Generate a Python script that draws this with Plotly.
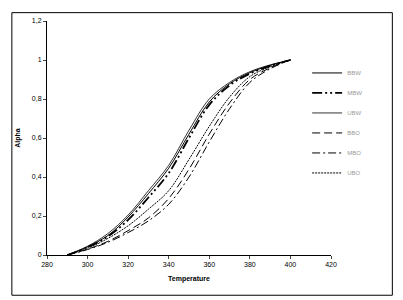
import plotly.graph_objects as go

temps = [290, 300, 310, 320, 330, 340, 350, 360, 370, 380, 390, 400]
BBW = [0, 0.042, 0.100, 0.195, 0.315, 0.445, 0.620, 0.785, 0.878, 0.935, 0.972, 1.0]
MBW = [0, 0.040, 0.095, 0.180, 0.295, 0.420, 0.600, 0.770, 0.870, 0.930, 0.970, 1.0]
UBW = [0, 0.045, 0.110, 0.205, 0.330, 0.460, 0.640, 0.800, 0.885, 0.940, 0.975, 1.0]
BBO = [0, 0.030, 0.070, 0.125, 0.190, 0.290, 0.440, 0.620, 0.780, 0.900, 0.960, 1.0]
MBO = [0, 0.028, 0.065, 0.115, 0.175, 0.260, 0.400, 0.580, 0.750, 0.885, 0.955, 1.0]
UBO = [0, 0.035, 0.085, 0.150, 0.235, 0.330, 0.490, 0.660, 0.810, 0.915, 0.965, 1.0]

x_ticks = [280, 300, 320, 340, 360, 380, 400, 420]
y_ticks = [0, 0.2, 0.4, 0.6, 0.8, 1.0, 1.2]
y_tick_labels = ["0", "0,2", "0,4", "0,6", "0,8", "1", "1,2"]

series = [
    ("BBW", BBW, "solid", 1.0),
    ("MBW", MBW, "10px,3px,2px,3px,2px,3px", 1.8),
    ("UBW", UBW, "solid", 0.8),
    ("BBO", BBO, "8px,4px", 1.0),
    ("MBO", MBO, "8px,3px,2px,3px", 1.0),
    ("UBO", UBO, "2px,1px", 1.0),
]

fig = go.Figure()
for name, vals, dash, w in series:
    fig.add_trace(go.Scatter(
        x=temps, y=vals, name=name, mode="lines", legendgroup=name,
        line=dict(color="black", width=w, dash=dash, shape="spline"),
    ))

axis_font = dict(family="Liberation Sans, Arial, sans-serif", size=7, color="black")
fig.update_layout(
    width=403, height=300,
    margin=dict(l=36, r=80, t=9, b=53),
    paper_bgcolor="white", plot_bgcolor="white",
    font=axis_font,
    showlegend=True,
    legend=dict(x=0.916, y=0.84, xanchor="left", yanchor="top",
                bgcolor="rgba(0,0,0,0)", borderwidth=0,
                font=dict(family="Liberation Sans, Arial, sans-serif", size=6, color="#999999"),
                tracegroupgap=1, itemwidth=30),
    xaxis=dict(range=[280, 420], tickvals=x_ticks, ticks="outside", ticklen=3,
               showline=True, linecolor="black", linewidth=1, showgrid=False,
               zeroline=False, tickfont=axis_font,
               title=dict(text="<b>Temperature</b>", font=axis_font, standoff=8)),
    yaxis=dict(range=[0, 1.2], tickvals=y_ticks, ticktext=y_tick_labels,
               ticks="outside", ticklen=3,
               showline=True, linecolor="black", linewidth=1, showgrid=False,
               zeroline=False, tickfont=axis_font,
               title=dict(text="<b>Alpha</b>", font=axis_font, standoff=10)),
    shapes=[dict(type="rect", xref="paper", yref="paper",
                 x0=-0.1237, x1=1.216, y0=-0.172, y1=1.0357,
                 line=dict(color="black", width=1), fillcolor="rgba(0,0,0,0)")],
)

fig.write_html("out.html")
